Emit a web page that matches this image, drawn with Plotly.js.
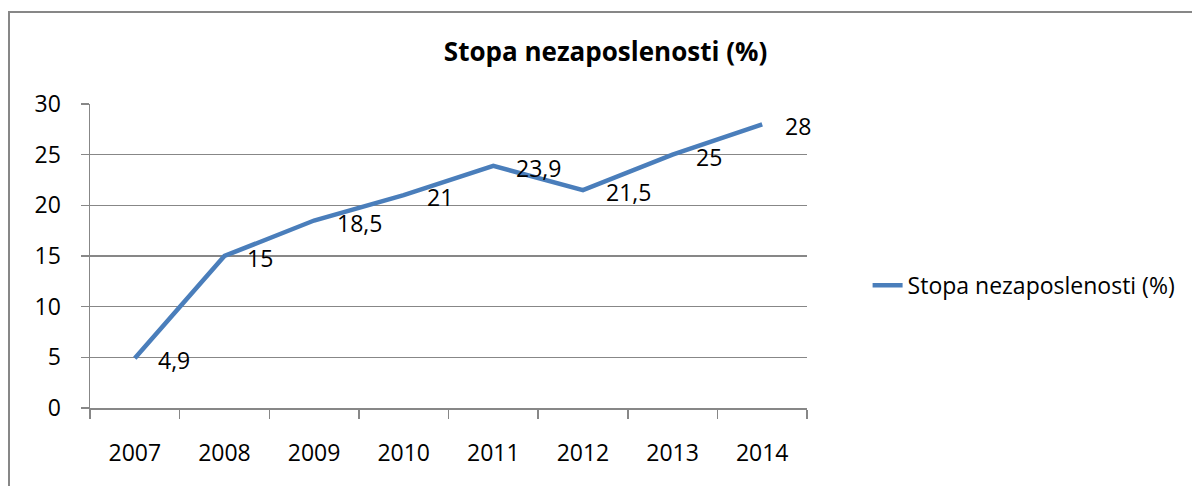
<!DOCTYPE html>
<html>
<head>
<meta charset="utf-8">
<script src="https://cdn.plot.ly/plotly-3.0.1.min.js"></script>
<style>
html,body{margin:0;padding:0;width:1192px;height:486px;overflow:hidden;background:#fff;}
#frame{position:absolute;left:8px;top:11px;width:1300px;height:600px;border:2px solid #878787;box-sizing:border-box;}
#chart{position:absolute;left:0;top:0;width:1192px;height:486px;}
</style>
</head>
<body>
<div id="frame"></div>
<div id="chart"></div>
<script>
const years = ['2007','2008','2009','2010','2011','2012','2013','2014'];
const rates = [4.9, 15, 18.5, 21, 23.9, 21.5, 25, 28];
const seriesName = 'Stopa nezaposlenosti (%)';
const chartTitle = 'Stopa nezaposlenosti (%)';
const yTicks = [0, 5, 10, 15, 20, 25, 30];

const font = '"Open Sans", "Noto Sans", "Liberation Sans", sans-serif';
const grey = '#878787';

const labels = rates.map(v => String(v).replace('.', ','));

const trace = {
  x: years,
  y: rates,
  type: 'scatter',
  mode: 'lines',
  name: seriesName,
  line: {color: '#4a7ebb', width: 4.5},
  hoverinfo: 'skip'
};

const annotations = years.map((yr, i) => ({
  x: i, y: rates[i], xref: 'x', yref: 'y',
  text: labels[i], showarrow: false,
  xanchor: 'left', yanchor: 'middle',
  xshift: 21, yshift: -2,
  font: {family: font, size: 23, color: '#000'}
}));

const layout = {
  width: 1192, height: 486,
  paper_bgcolor: 'rgba(0,0,0,0)',
  plot_bgcolor: 'rgba(0,0,0,0)',
  margin: {l: 90, r: 384, t: 104, b: 78, pad: 0},
  title: {
    text: '<b>' + chartTitle + '</b>',
    x: 0.508, xref: 'container', xanchor: 'center',
    y: 0.893, yref: 'container', yanchor: 'middle',
    font: {family: font, size: 26, color: '#000'}
  },
  xaxis: {
    type: 'category',
    range: [-0.5, 7.5],
    tickson: 'boundaries',
    ticks: 'outside', ticklen: 9, tickwidth: 1.5, tickcolor: grey,
    showline: true, linecolor: grey, linewidth: 1.5,
    showgrid: false, zeroline: false,
    ticklabelstandoff: 24,
    tickfont: {family: font, size: 23, color: '#000'},
    fixedrange: true
  },
  yaxis: {
    range: [0, 30],
    tickvals: yTicks,
    ticktext: yTicks.map(String),
    ticks: 'outside', ticklen: 8, tickwidth: 1.5, tickcolor: grey,
    showline: true, linecolor: grey, linewidth: 1.5,
    showgrid: true, gridcolor: grey, gridwidth: 1.5,
    zeroline: false,
    ticklabelstandoff: 15,
    tickfont: {family: font, size: 23, color: '#000'},
    fixedrange: true
  },
  showlegend: true,
  legend: {
    x: 1.083, xanchor: 'left',
    y: 0.404, yanchor: 'middle',
    font: {family: font, size: 23, color: '#000'},
    bgcolor: 'rgba(0,0,0,0)'
  },
  annotations: annotations
};

Plotly.newPlot('chart', [trace], layout, {displayModeBar: false, staticPlot: true});
</script>
</body>
</html>
